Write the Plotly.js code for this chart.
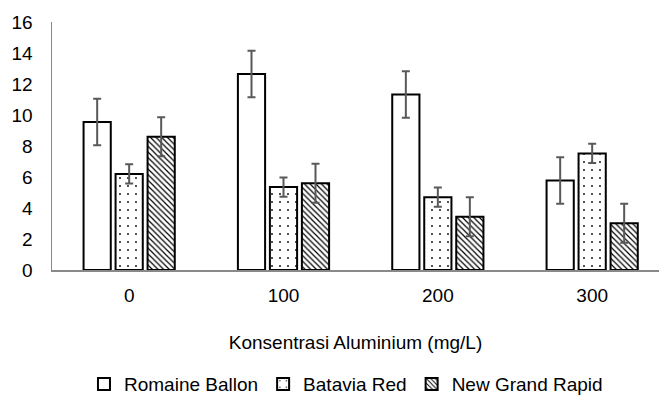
<!DOCTYPE html>
<html>
<head>
<meta charset="utf-8">
<script src="https://cdn.plot.ly/plotly-3.0.1.min.js"></script>
<style>html,body{margin:0;padding:0;background:#fff;}#chart{width:659px;height:396px;}</style>
</head>
<body>
<div id="chart"></div>
<script>
const categories = ["0", "100", "200", "300"];
const romaineValues = [9.55, 12.65, 11.33, 5.77];
const romaineErrors = [1.5, 1.5, 1.5, 1.5];
const bataviaValues = [6.2, 5.35, 4.7, 7.52];
const bataviaErrors = [0.62, 0.62, 0.62, 0.62];
const grandRapidValues = [8.6, 5.6, 3.43, 3.02];
const grandRapidErrors = [1.26, 1.26, 1.26, 1.26];
const yTicks = [0, 2, 4, 6, 8, 10, 12, 14, 16];

const font = "Liberation Sans, Arial, sans-serif";
const fsize = 19;
const errStyle = (arr) => ({type: "data", array: arr, visible: true, color: "#595959", thickness: 2, width: 4});
const lineStyle = {color: "#000000", width: 2};

const traces = [
  {type: "bar", name: "Romaine Ballon", x: categories, y: romaineValues,
   error_y: errStyle(romaineErrors),
   marker: {color: "#ffffff", line: lineStyle}},
  {type: "bar", name: "Batavia Red", x: categories, y: bataviaValues,
   error_y: errStyle(bataviaErrors),
   marker: {color: "#ffffff", line: lineStyle,
            pattern: {shape: ".", fgcolor: "#000000", bgcolor: "#ffffff", size: 8, solidity: 0.04}}},
  {type: "bar", name: "New Grand Rapid", x: categories, y: grandRapidValues,
   error_y: errStyle(grandRapidErrors),
   marker: {color: "#ffffff", line: lineStyle,
            pattern: {shape: "\\", fgcolor: "#000000", bgcolor: "#ffffff", size: 4, solidity: 0.3}}}
];

const layout = {
  width: 659, height: 396,
  margin: {l: 52, r: 0, t: 22, b: 126},
  paper_bgcolor: "#ffffff", plot_bgcolor: "#ffffff",
  font: {family: font, size: fsize, color: "#000000"},
  barmode: "group", bargap: 0.378, bargroupgap: 0.15,
  showlegend: true,
  legend: {orientation: "h", x: 0.525, xanchor: "center", xref: "container",
           y: 0.03, yanchor: "middle", yref: "container",
           font: {family: font, size: fsize, color: "#000000"}, itemwidth: 30, traceorder: "normal"},
  xaxis: {type: "category", range: [-0.5, 3.433], showline: true, linecolor: "#898989", linewidth: 1.5,
          ticks: "", showgrid: false, zeroline: false, ticklabelstandoff: 8,
          tickfont: {family: font, size: fsize, color: "#000000"},
          title: {text: "Konsentrasi Aluminium (mg/L)", standoff: 30, font: {family: font, size: fsize, color: "#000000"}}},
  yaxis: {range: [0, 16], tickvals: yTicks, ticktext: yTicks.map(String), showline: true, linecolor: "#898989", linewidth: 1.5,
          ticks: "", showgrid: false, zeroline: false, ticklabelstandoff: 14,
          tickfont: {family: font, size: fsize, color: "#000000"}}
};

Plotly.newPlot("chart", traces, layout, {staticPlot: true, displayModeBar: false});
</script>
</body>
</html>
